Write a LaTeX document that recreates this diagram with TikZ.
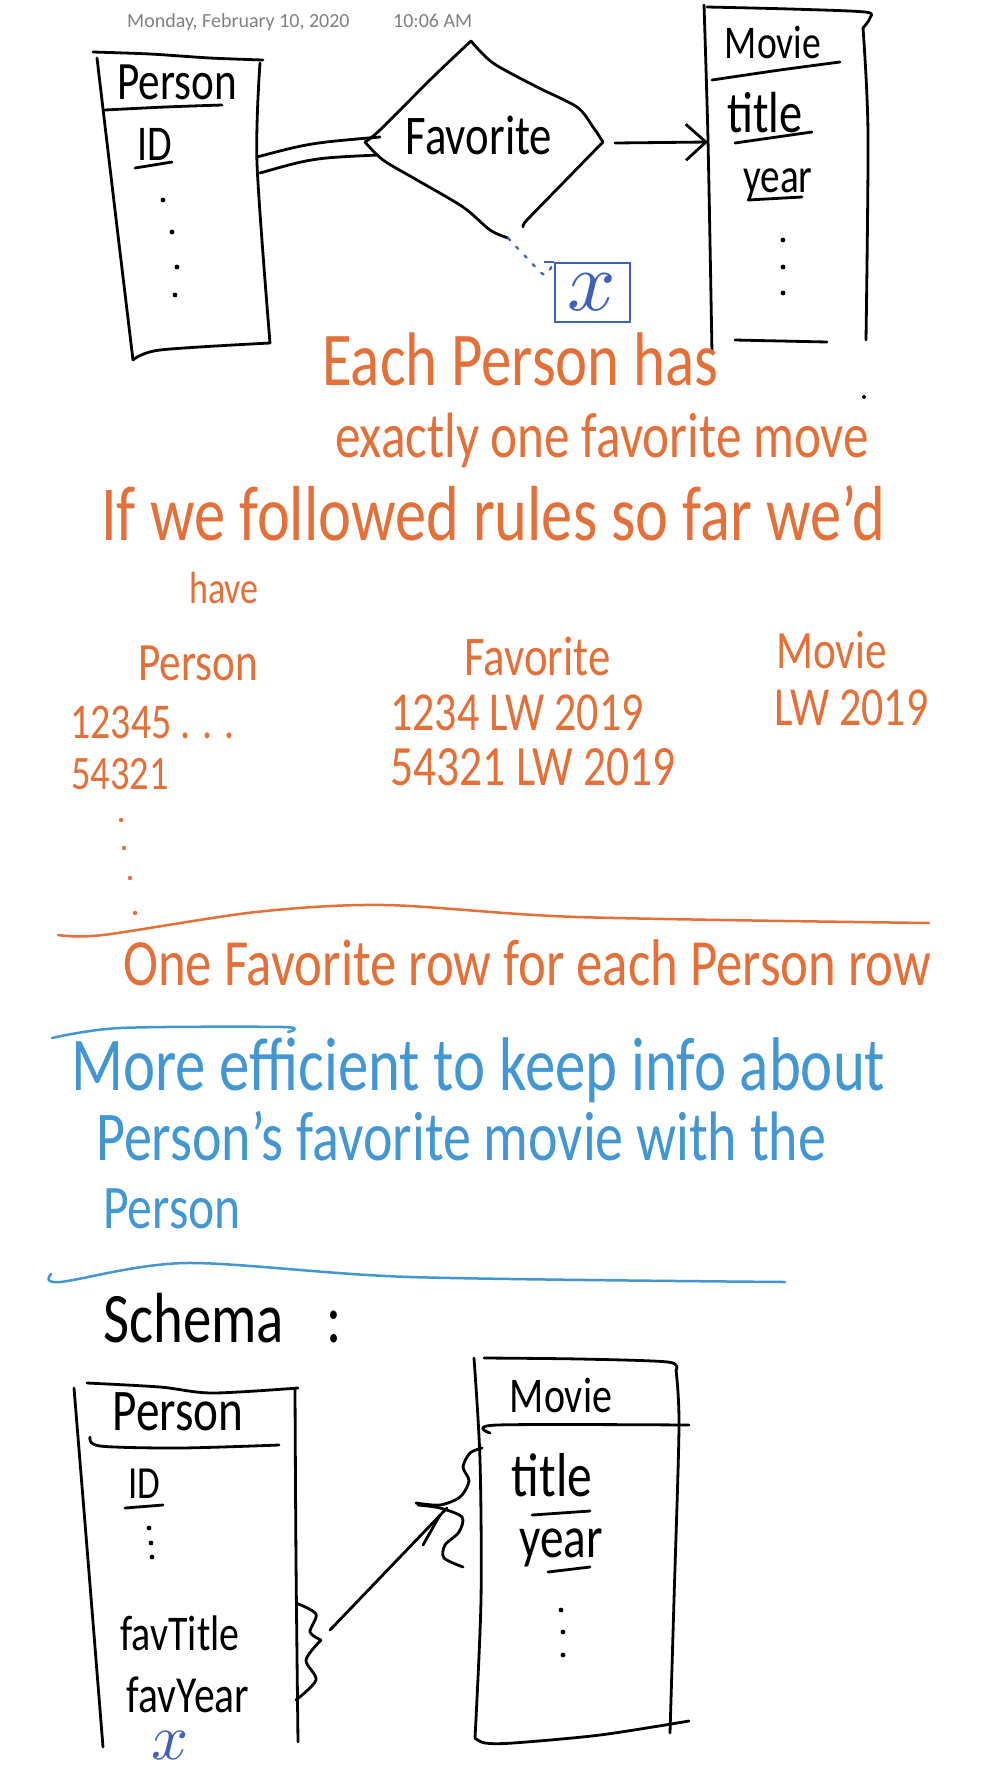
\documentclass[tikz,border=0pt]{standalone}
\usepackage{fontspec}
\setmainfont{Carlito}[FakeStretch=0.8]
\newfontfamily\printfont{Carlito}
\usetikzlibrary{arrows.meta}
\definecolor{inkorange}{RGB}{226,112,56}
\definecolor{inkblue}{RGB}{66,150,210}
\definecolor{inkdark}{RGB}{62,96,184}
\newcommand\hand[1]{\fontsize{#1}{#1}\selectfont}
\tikzset{
  pen/.style={line width=2.8pt,line cap=round,line join=round},
  word/.style={inner sep=0pt,anchor=base west},
  lbl/.style={inner sep=0pt},
}
\begin{document}
\begin{tikzpicture}[x=1pt,y=-1pt]
\useasboundingbox[fill=white] (0,0) rectangle (996,1792);
\node[word,gray,font={\printfont\hand{20}}] (date) at (127,27) {Monday, February 10, 2020};
\node[word,gray,font={\printfont\hand{20}}] (time) at (393,27) {10:06 AM};

% Person -- Favorite -> Movie
\draw[pen] plot[smooth] coordinates {(93,52) (150,54) (210,58) (263,60)};
\draw[pen] plot[smooth] coordinates {(97,58) (115,210) (133,360)};
\draw[pen] plot[smooth] coordinates {(260,63) (257,163) (270,343)};
\draw[pen] plot[smooth] coordinates {(133,360) (160,350) (270,343)};
\node[lbl,font={\hand{54}}] (person) at (177,82) {Person};
\draw[pen] plot[smooth] coordinates {(105,110) (165,107) (222,105)};
\node[lbl,font={\hand{50}}] (pid) at (155,144) {ID};
\draw[pen] (135,168) -- (172,162);
\foreach \x/\y in {163/200,172/232,177/267,175/295}
  \fill (\x,\y) circle (2.4);

\coordinate (ftop) at (471,41);
\coordinate (fleft) at (365,142);
\coordinate (fright) at (603,142);
\coordinate (fbot) at (508,238);
\draw[pen] plot[smooth] coordinates {(ftop) (433,77) (380,130) (fleft)};
\draw[pen] plot[smooth] coordinates {(ftop) (493,63) (537,87) (577,107) (593,127) (fright)};
\draw[pen] plot[smooth] coordinates {(fright) (563,183) (527,220) (523,227)};
\draw[pen] plot[smooth] coordinates {(fleft) (383,160) (417,180) (463,207) (490,230) (fbot)};
\node[lbl,font={\hand{56}}] (fav) at (479,135) {Favorite};

\coordinate (pe1) at (257,157);
\coordinate (pe2) at (260,173);
\coordinate (fw1) at (380,137);
\coordinate (fw2) at (378,155);
\draw[pen] (pe1) .. controls (310,143) .. (fw1);
\draw[pen] (pe2) .. controls (313,158) .. (fw2);

\draw[pen] plot[smooth] coordinates {(707,7) (790,9) (865,12) (870,18) (863,28)};
\draw[pen] plot[smooth] coordinates {(704,5) (708,140) (712,353)};
\draw[pen] plot[smooth] coordinates {(863,28) (868,133) (866,340)};
\draw[pen] (735,340) -- (827,342);
\node[lbl,font={\hand{47}}] (movie) at (773,42) {Movie};
\draw[pen] plot[smooth] coordinates {(712,80) (780,70) (840,62)};
\node[lbl,font={\hand{58}}] (mtitle) at (765,113) {title};
\draw[pen] (735,143) -- (812,132);
\node[lbl,font={\hand{49}}] (myear) at (778,185) {year};
\draw[pen] (748,200) -- (802,197);
\foreach \y in {240,267,293}
  \fill (783,\y) circle (2.4);

\coordinate (fe) at (615,143);
\coordinate (me) at (708,142);
\draw[pen,-{Straight Barb[length=20pt,width=36pt]}] (fe) -- (me);

\node[draw=inkdark,line width=2pt,minimum width=75pt,minimum height=59pt,
  text=inkdark] (xattr) at (592,292) {\scalebox{8.5}{$x$}};
\draw[inkdark,line width=2pt] (xattr.north west) -- ++(-10,0);
\draw[inkdark,line width=2.2pt,line cap=round,dash pattern=on 3pt off 9pt]
  plot[smooth] coordinates {(fbot) (527,258) (545,275) (xattr.north west)};
\fill (864,397) circle (2);

% orange notes
\begin{scope}[inkorange]
\node[word,font={\hand{76}}] (each) at (322,385) {Each Person has};
\node[word,font={\hand{64}}] (exactly) at (335,457) {exactly one favorite move};
\node[word,font={\hand{78}}] (iff) at (101,540) {If we followed rules so far we'd};
\node[word,font={\hand{45}}] (have) at (189,603) {have};
\node[word,font={\hand{54}}] (tperson) at (138,680) {Person};
\node[word,font={\hand{56}}] (tfav) at (464,675) {Favorite};
\node[word,font={\hand{54}}] (tmovie) at (776,668) {Movie};
\node[word,font={\hand{50}}] (rowpa) at (70,738) {12345 . . .};
\node[word,font={\hand{55}}] (rowfa) at (390,730) {1234 LW 2019};
\node[word,font={\hand{55}}] (rowma) at (774,725) {LW 2019};
\node[word,font={\hand{48}}] (rowpb) at (71,789) {54321};
\node[word,font={\hand{57}}] (rowfb) at (390,785) {54321 LW 2019};
\foreach \x/\y in {121/820,124/848,130/878,135/913}
  \fill (\x,\y) circle (2.2);
\draw[pen,line width=2.5pt] plot[smooth] coordinates {(58,935) (103,935) (256,912) (385,905) (577,917) (929,923)};
\node[word,font={\hand{66}}] (onefav) at (123,985) {One Favorite row for each Person row};
\end{scope}

% blue notes
\begin{scope}[inkblue]
\draw[pen,line width=2.5pt] plot[smooth] coordinates {(52,1038) (120,1028) (283,1027) (288,1032)};
\node[word,font={\hand{76}}] (more) at (71,1090) {More efficient to keep info about};
\node[word,font={\hand{70}}] (persons) at (96,1160) {Person's favorite movie with the};
\node[word,font={\hand{62}}] (withp) at (103,1228) {Person};
\draw[pen,line width=2.5pt] plot[smooth] coordinates {(51,1274) (60,1282) (186,1263) (410,1277) (785,1282)};
\end{scope}

% schema
\node[word,font={\hand{71}}] (schema) at (103,1342) {Schema\hspace{0.6em}:};
\draw[pen] plot[smooth] coordinates {(87,1383) (160,1387) (212,1393) (298,1388)};
\draw[pen] plot[smooth] coordinates {(74,1388) (88,1560) (103,1747)};
\draw[pen] plot[smooth] coordinates {(295,1388) (296,1560) (298,1742)};
\node[lbl,font={\hand{59}}] (sperson) at (178,1412) {Person};
\draw[pen] plot[smooth] coordinates {(90,1437) (100,1446) (180,1448) (279,1445)};
\node[lbl,font={\hand{46}}] (sid) at (144,1484) {ID};
\draw[pen] (125,1508) -- (163,1505);
\foreach \x/\y in {149/1528,151/1543,152/1557}
  \fill (\x,\y) circle (2.4);
\node[lbl,font={\hand{50}}] (ftitle) at (180,1633) {favTitle};
\node[lbl,font={\hand{52}}] (fyear) at (188,1695) {favYear};
\node[lbl,text=inkdark] (sx) at (170,1745) {\scalebox{6.5}{$x$}};
\draw[pen] plot[smooth] coordinates {(296,1603) (316,1614) (310,1632) (321,1640)};
\draw[pen] plot[smooth] coordinates {(321,1640) (306,1660) (316,1680) (296,1700)};

\draw[pen] plot[smooth] coordinates {(484,1358) (580,1359) (668,1362) (676,1370)};
\draw[pen] plot[smooth] coordinates {(474,1358) (480,1460) (481,1600) (475,1738)};
\draw[pen] plot[smooth] coordinates {(676,1370) (679,1427) (674,1600) (670,1733)};
\draw[pen] plot[smooth] coordinates {(475,1738) (485,1743) (513,1743) (600,1735) (689,1721)};
\node[lbl,font={\hand{50}}] (smovie) at (561,1395) {Movie};
\draw[pen] plot[smooth] coordinates {(490,1433) (497,1425) (689,1425)};
\node[lbl,font={\hand{62}}] (stitle) at (552,1475) {title};
\draw[pen] (532,1515) -- (590,1511);
\node[lbl,font={\hand{59}}] (syear) at (561,1548) {year};
\draw[pen] (548,1572) -- (590,1567);
\foreach \x/\y in {561/1610,563/1632,563/1655}
  \fill (\x,\y) circle (2.4);
\draw[pen] plot[smooth] coordinates {(482,1448) (470,1453) (463,1467) (469,1481) (460,1497) (440,1505) (416,1503)};
\draw[pen] plot[smooth] coordinates {(418,1505) (440,1508) (462,1517) (459,1532) (445,1545) (444,1558) (463,1567)};

\coordinate (ptip) at (330,1630);
\coordinate (mtip) at (447,1508);
\draw[pen] (ptip) -- (mtip);
\draw[pen] (423,1545) -- (440,1515);
\end{tikzpicture}
\end{document}
